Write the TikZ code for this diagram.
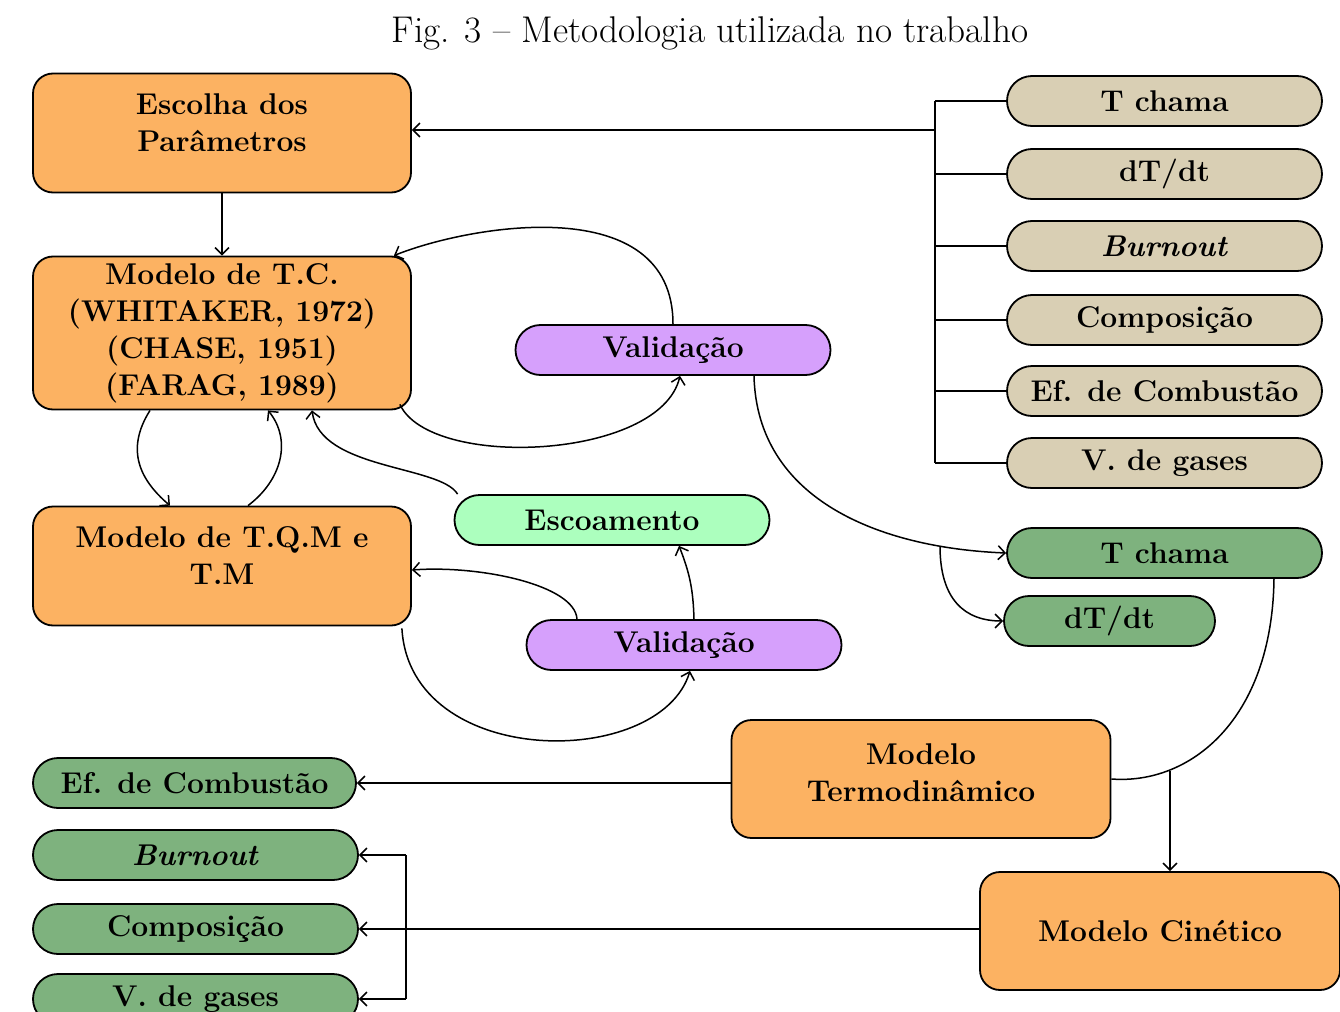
\documentclass[tikz,border=0pt]{standalone}
\usepackage{tikz}
\usetikzlibrary{calc,positioning,arrows.meta}

\definecolor{laranja}{RGB}{252,178,98}
\definecolor{bege}{RGB}{217,207,180}
\definecolor{verde}{RGB}{126,178,126}
\definecolor{verdeclaro}{RGB}{172,255,190}
\definecolor{lilas}{RGB}{214,160,252}

\begin{document}
\begin{tikzpicture}[x=0.5pt, y=-0.5pt, line width=0.75pt, >={Straight Barb[length=3.5pt,width=7pt]},
  texto/.style={font=\fontsize{15}{18.5}\selectfont\bfseries},
  caixa/.style={texto, draw, line width=0.9pt, fill=laranja, rounded corners=10pt, align=center, minimum width=189pt, inner sep=2pt},
  pilula/.style={texto, draw, line width=0.9pt, rounded corners=12.5pt, minimum width=157.5pt, minimum height=25pt, inner sep=1pt}]
\useasboundingbox (0,0) rectangle (1340,1012);

% Titulo
\node (titulo) at (710,33) {\fontsize{18.6}{22}\selectfont Fig. 3 -- Metodologia utilizada no trabalho};

% Caixas laranja
\node[caixa, minimum height=59.5pt] (escolha) at (222,133) {Escolha dos\\Parâmetros\\[-8pt]\mbox{}};
\node[caixa, minimum height=76.5pt] (tc) at (222,333) {Modelo de T.C.\\(WHITAKER, 1972)\\(CHASE, 1951)\\(FARAG, 1989)};
\node[caixa, minimum height=59.5pt] (tqm) at (222,566) {Modelo de T.Q.M e\\T.M\\[-8pt]\mbox{}};
\node[caixa, minimum height=59pt, minimum width=189.5pt] (termo) at (921,779) {Modelo\\Termodinâmico\\[-12.5pt]\mbox{}};
\node[caixa, minimum height=59pt, minimum width=180pt] (cinetico) at (1160,931) {Modelo Cinético};

% Validacao e escoamento no meio
\node[pilula, fill=lilas] (val1) at (673,350) {Validação};
\node[pilula, fill=verdeclaro] (escoam) at (612,520) {Escoamento};
\node[pilula, fill=lilas] (val2) at (684,645) {Validação};

% Parametros de entrada (bege) a direita
\node[pilula, fill=bege] (tchamaB) at (1164.5,101) {T chama};
\node[pilula, fill=bege] (dtdtB) at (1164.5,174) {dT/dt};
\node[pilula, fill=bege] (burnoutB) at (1164.5,246) {\textit{Burnout}};
\node[pilula, fill=bege] (compB) at (1164.5,320) {Composição};
\node[pilula, fill=bege] (eficB) at (1164.5,391) {Ef. de Combustão};
\node[pilula, fill=bege] (vgasesB) at (1164.5,463) {V. de gases};

% Resultados (verde)
\node[pilula, fill=verde] (tchamaV) at (1164.5,553) {T chama};
\node[pilula, fill=verde, minimum width=105.5pt] (dtdtV) at (1109.5,621) {dT/dt};
\node[pilula, fill=verde, minimum width=161.5pt] (eficV) at (194.5,783) {Ef. de Combustão};
\node[pilula, fill=verde, minimum width=162.5pt] (burnoutV) at (195.5,855) {\textit{Burnout}};
\node[pilula, fill=verde, minimum width=162.5pt] (compV) at (195.5,929) {Composição};
\node[pilula, fill=verde, minimum width=162.5pt] (vgasesV) at (195.5,999) {V. de gases};

% Barramento dos parametros
\coordinate (barra) at (935,130);
\draw (tchamaB.west -| barra) -- (vgasesB.west -| barra);
\draw (tchamaB.west) -- (tchamaB.west -| barra);
\draw (dtdtB.west) -- (dtdtB.west -| barra);
\draw (burnoutB.west) -- (burnoutB.west -| barra);
\draw (compB.west) -- (compB.west -| barra);
\draw (eficB.west) -- (eficB.west -| barra);
\draw (vgasesB.west) -- (vgasesB.west -| barra);
\draw (barra) -- (barra -| escolha.east) [->];

\draw (escolha) -- (tc) [->];

% Laco T.C. - validacao
\draw[->] (val1.north) .. controls (673,190) and (470,225) .. ([xshift=-9pt]tc.north east);
\draw[->] ([xshift=-6pt,yshift=3pt]tc.south east) .. controls (430,470) and (660,460) .. ([xshift=3.5pt]val1.south);

% T.C. <-> T.Q.M
\draw[->] ([xshift=-36pt]tc.south) .. controls (125,450) and (140,480) .. ([xshift=-26pt]tqm.north);
\draw[->] ([xshift=13pt]tqm.north) .. controls (282,480) and (292,440) .. ([xshift=23pt]tc.south);

% Escoamento e segunda validacao
\draw[->] ([xshift=2pt]escoam.north west) .. controls (440,465) and (320,470) .. ([xshift=45pt]tc.south);
\draw[->] ([xshift=-53.5pt]val2.north) .. controls (575,585) and (480,565) .. ([yshift=-2pt]tqm.east);
\draw[->] ([xshift=5pt]val2.north) to[bend right=10] ([xshift=33.5pt]escoam.south);
\draw[->] ([xshift=-5pt,yshift=-1pt]tqm.south east) .. controls (410,770) and (660,770) .. ([xshift=3pt]val2.south);

% Validacao -> resultados
\coordinate (bifurca) at (940,546);
\draw[->] ([xshift=40.5pt]val1.south) .. controls (757,500) and (880,548) .. (tchamaV.west);
\draw[->] (bifurca) .. controls (940,600) and (965,621) .. (dtdtV.west);

% Modelo termodinamico e cinetico
\coordinate (juncao) at (1170,771);
\draw ([xshift=54.75pt]tchamaV.south) .. controls (1272,720) and (1190,785) .. (termo.east);
\draw (juncao) -- (juncao |- cinetico.north) [->];
\draw (termo.west |- eficV.east) -- (eficV.east) [->];

% Saidas do modelo cinetico
\coordinate (barra2) at (406,929);
\draw (cinetico.west |- compV.east) -- (compV.east) [->];
\draw (burnoutV.east -| barra2) -- (vgasesV.east -| barra2);
\draw (burnoutV.east -| barra2) -- (burnoutV.east) [->];
\draw (vgasesV.east -| barra2) -- (vgasesV.east) [->];

\end{tikzpicture}
\end{document}
